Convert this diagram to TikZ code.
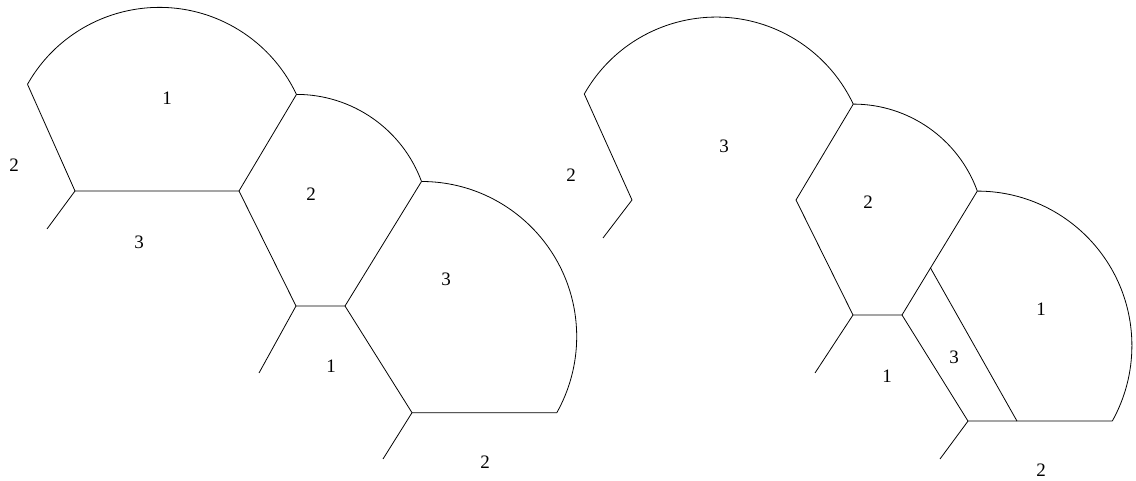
\documentclass[tikz,border=0pt]{standalone}
\usepackage{fontspec}
\setmainfont{Liberation Serif}

\begin{document}
\begin{tikzpicture}[
    x=1pt, y=1pt,
    every node/.style={font=\fontsize{19}{22}\selectfont, inner sep=0pt},
    edge/.style={line width=0.8pt, line join=round}
]
\useasboundingbox (0,0) rectangle (1136,481);

%% Left figure: corners
\coordinate (a1) at (27.5,396.7);
\coordinate (a2) at (296.5,386.6);
\coordinate (a3) at (421.5,299.5);
\coordinate (a4) at (556.8,68.3);
\coordinate (v1) at (75,290);
\coordinate (v2) at (239,290);
\coordinate (v3) at (296,175);
\coordinate (v4) at (345,175);
\coordinate (v5) at (412,68.3);
\coordinate (t1) at (47,252);
\coordinate (t2) at (259,108);
\coordinate (t3) at (383,22);

%% Left figure: arcs
\draw[edge] (a1) arc[start angle=150.5, end angle=25.2, radius=151.5];
\draw[edge] (a2) arc[start angle=90, end angle=20.3, radius=133.3];
\draw[edge] (a3) arc[start angle=90, end angle=-29.3, radius=155.2];

%% Left figure: walls
\draw[edge] (a1) -- (v1) -- (v2) -- (a2);
\draw[edge] (v2) -- (v3) -- (v4) -- (a3);
\draw[edge] (v4) -- (v5) -- (a4);
\draw[edge] (v1) -- (t1);
\draw[edge] (v3) -- (t2);
\draw[edge] (v5) -- (t3);

%% Left figure: labels
\node (la1) at (167,383) {1};
\node (la2) at (14,316) {2};
\node (la3) at (139,239) {3};
\node (lb2) at (311,287) {2};
\node (lb3) at (446,202) {3};
\node (lb1) at (331,115) {1};
\node (lc2) at (485,19) {2};

%% Right figure: corners
\coordinate (b1) at (584.3,387);
\coordinate (b2) at (853.3,376.9);
\coordinate (b3) at (977.3,289.9);
\coordinate (b4) at (1112.2,59.9);
\coordinate (w1) at (632,281);
\coordinate (w2) at (796,281);
\coordinate (w3) at (853,166);
\coordinate (w4) at (902,166);
\coordinate (w5) at (968,59.9);
\coordinate (m1) at (930.5,213);
\coordinate (m2) at (1017,59.9);
\coordinate (s1) at (603,243);
\coordinate (s2) at (815,108);
\coordinate (s3) at (940,22);

%% Right figure: arcs
\draw[edge] (b1) arc[start angle=150.5, end angle=25.2, radius=151.5];
\draw[edge] (b2) arc[start angle=90, end angle=19.9, radius=131.9];
\draw[edge] (b3) arc[start angle=90, end angle=-29.2, radius=154.6];

%% Right figure: walls
\draw[edge] (b1) -- (w1) -- (s1);
\draw[edge] (b2) -- (w2) -- (w3) -- (w4) -- (m1) -- (b3);
\draw[edge] (w4) -- (w5) -- (m2) -- (b4);
\draw[edge] (m1) -- (m2);
\draw[edge] (w3) -- (s2);
\draw[edge] (w5) -- (s3);

%% Right figure: labels
\node (ra2) at (571,306) {2};
\node (ra3) at (724,335) {3};
\node (rb2) at (868,279) {2};
\node (rc1) at (1041,172) {1};
\node (rc3) at (954,124) {3};
\node (rb1) at (887,105) {1};
\node (rd2) at (1041,11) {2};
\end{tikzpicture}
\end{document}
